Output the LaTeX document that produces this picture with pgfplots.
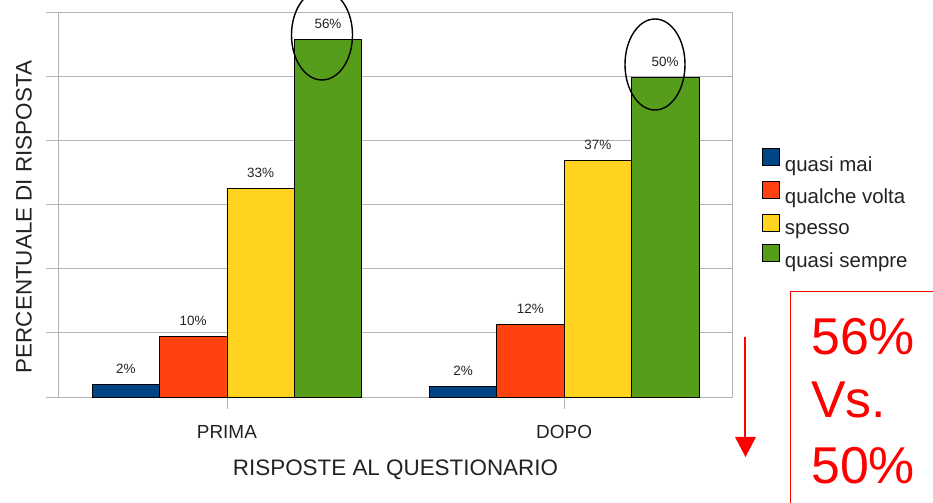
\documentclass[border=0pt]{standalone}
\usepackage{pgfplots}
\pgfplotsset{compat=1.18}
\usepackage{fontspec}
\setmainfont{Liberation Sans}
\definecolor{cblue}{HTML}{004586}
\definecolor{cred}{HTML}{FF420E}
\definecolor{cyellow}{HTML}{FFD320}
\definecolor{cgreen}{HTML}{579D1C}
\definecolor{gridgray}{HTML}{B3B3B3}
\definecolor{txt}{HTML}{222222}
\begin{document}
\begin{tikzpicture}
\useasboundingbox (0,0) rectangle (933bp,503bp);
\clip (0,0) rectangle (933bp,503bp);
\begin{axis}[
  at={(58.3bp,106bp)}, anchor=south west,
  scale only axis, width=674.4bp, height=385bp,
  xmin=-0.5, xmax=1.5, ymin=0, ymax=60,
  ybar=0pt, bar width=67.4bp,
  xtick={0,1}, xticklabels={PRIMA,DOPO},
  ytick={0,10,20,30,40,50,60}, yticklabels={},
  xtick pos=bottom, ytick pos=left,
  tick align=outside, major tick length=12bp,
  tick style={gridgray, line width=0.8bp},
  ymajorgrids, grid style={gridgray, line width=0.8bp},
  axis line style={gridgray, line width=0.8bp},
  tick label style={font=\fontsize{19}{19}\selectfont, text=txt},
  xticklabel style={yshift=-12.5bp},
  xlabel={RISPOSTE AL QUESTIONARIO},
  ylabel={PERCENTUALE DI RISPOSTA},
  label style={font=\fontsize{22.5}{22.5}\selectfont, text=txt},
  xlabel style={at={(axis description cs:0.5,-0.19)}, anchor=center},
  ylabel style={at={(axis description cs:-0.0509,0.4675)}, anchor=center},
  point meta=explicit symbolic,
  nodes near coords,
  nodes near coords style={font=\fontsize{13.5}{13.5}\selectfont, text=txt, yshift=7bp},
  legend style={draw=none, fill=none, at={(1.0434,0.647)}, anchor=north west,
    font=\fontsize{20.5}{20.5}\selectfont, text=txt, row sep=6.2bp, inner sep=0pt,
    legend cell align=left},
  legend image code/.code={\draw[#1, draw=black, line width=0.8bp] (0bp,-1bp) rectangle (17bp,16bp);
    \path (20bp,0bp);},
  clip=false,
]
\addplot[fill=cblue, draw=black, line width=0.8bp] coordinates {(0,2.0) [2\%] (1,1.7) [2\%]};
\addplot[fill=cred, draw=black, line width=0.8bp] coordinates {(0,9.5) [10\%] (1,11.3) [12\%]};
\addplot[fill=cyellow, draw=black, line width=0.8bp] coordinates {(0,32.5) [33\%] (1,36.9) [37\%]};
\addplot[fill=cgreen, draw=black, line width=0.8bp] coordinates {(0,55.7) [56\%] (1,49.8) [50\%]};
\legend{quasi mai, qualche volta, spesso, quasi sempre}
\end{axis}
% annotations (picture coordinates: x = image x, y = 503 - image y)
\draw[black, line width=1.4bp] (322bp,468bp) ellipse [x radius=30.5bp, y radius=45bp];
\draw[black, line width=1.4bp] (655bp,438.5bp) ellipse [x radius=30bp, y radius=45.5bp];
\draw[red, line width=1.3bp] (790.7bp,-5bp) -- (790.7bp,211.3bp) -- (940bp,211.3bp);
\draw[red, line width=1.2bp] (745bp,166.3bp) -- (745bp,60bp);
\fill[red] (735bp,66bp) -- (756bp,66bp) -- (745.5bp,46bp) -- cycle;
\node[red, anchor=base west, inner sep=0pt, font=\fontsize{52}{52}\selectfont] at (811bp,148bp) {56\%};
\node[red, anchor=base west, inner sep=0pt, font=\fontsize{52}{52}\selectfont] at (811bp,85bp) {Vs.};
\node[red, anchor=base west, inner sep=0pt, font=\fontsize{52}{52}\selectfont] at (811bp,20bp) {50\%};
\end{tikzpicture}
\end{document}
